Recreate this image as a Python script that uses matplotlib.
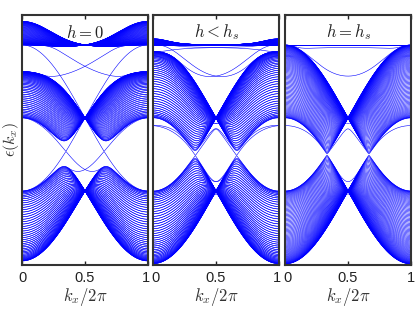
import numpy as np
import matplotlib
matplotlib.use("Agg")
import matplotlib.pyplot as plt
import matplotlib.transforms as mtransforms

# kagome strip magnon bands, one panel per field value
titles = [r'$h=0$', r'$h<h_s$', r'$h=h_s$']
phi_dm = [0.20, 0.05, 0.0]        # DM phase per bond
edge_shift = [0.0, -0.3, -0.3]    # on-site change on edge sites
n_rows = [45, 45, 90]             # strip width (unit cells) per panel
kx = np.linspace(0, 1, 241)       # k_x / 2pi
ylims = (-0.03, 6.82)
xticks = [0, 0.5, 1]
xticklabels = ['0', '0.5', '1']

s3 = np.sqrt(3)
SUB = {'A': (0.0, 0.0), 'B': (0.5, 0.0), 'C': (0.25, s3/4)}
CYC = {('A', 'B'), ('B', 'C'), ('C', 'A')}


def build_strip(N):
    sites = [(s, m) for m in range(N) for s in 'ABC']
    pos = [((SUB[s][0] + 0.5*m) % 1.0, SUB[s][1] + m*s3/2) for s, m in sites]
    bonds = []
    deg = np.zeros(len(sites))
    for i in range(len(sites)):
        for j in range(len(sites)):
            if (sites[i][0], sites[j][0]) not in CYC:
                continue
            if abs(pos[j][1] - pos[i][1]) > 0.5:
                continue
            for sh in (-1, 0, 1):
                d = np.hypot(pos[j][0] + sh - pos[i][0], pos[j][1] - pos[i][1])
                if abs(d - 0.5) < 1e-6:
                    bonds.append((i, j, sh))
                    deg[i] += 1
                    deg[j] += 1
    return bonds, deg


def bands(k, phi, delta, bonds, deg):
    n = len(deg)
    out = []
    for kk in k:
        M = np.zeros((n, n), complex)
        for i, j, sh in bonds:
            amp = np.exp(1j*phi) * np.exp(2j*np.pi*kk*sh)
            M[j, i] += amp
            M[i, j] += np.conj(amp)
        H = 4*np.eye(n) - M + np.diag(delta*(4 - deg))
        out.append(np.linalg.eigvalsh(H))
    return np.array(out)


plt.rcParams['mathtext.fontset'] = 'cm'
plt.rcParams['font.family'] = ['Liberation Sans', 'DejaVu Sans']

fig = plt.figure(figsize=(4.15, 3.12), dpi=100)
lefts = [22, 153, 285]
for p in range(3):
    ax = fig.add_axes([lefts[p]/415, 47/312, 126/415, 250/312])
    bonds, deg = build_strip(n_rows[p])
    E = bands(kx, phi_dm[p], edge_shift[p], bonds, deg)
    ax.plot(kx, E, color='b', lw=0.4)
    if phi_dm[p] != 0:
        ax.plot(1 - kx, E, color='b', lw=0.4)
    ax.set_xlim(0, 1)
    ax.set_ylim(*ylims)
    ax.set_yticks([])
    ax.set_xticks(xticks)
    ax.set_xticklabels(xticklabels, fontsize=10.5)
    ax.tick_params(axis='x', direction='in', length=3, width=1, top=True, pad=4, colors='#222222')
    # nudge the touching "1" / "0" labels apart a little
    labs = ax.get_xticklabels()
    if p < 2:
        labs[-1].set_transform(labs[-1].get_transform() +
                               mtransforms.ScaledTranslation(-2/100, 0, fig.dpi_scale_trans))
    if p > 0:
        labs[0].set_transform(labs[0].get_transform() +
                              mtransforms.ScaledTranslation(2/100, 0, fig.dpi_scale_trans))
    for sp in ax.spines.values():
        sp.set_linewidth(1.5)
        sp.set_color('#333333')
    ax.set_xlabel(r'$k_x/2\pi$', fontsize=12, labelpad=1, color='#333333')
    ax.text(0.5, 0.93, titles[p], transform=ax.transAxes, ha='center', va='center',
            fontsize=12, color='#222222')
    if p == 0:
        ax.set_ylabel(r'$\epsilon(k_x)$', fontsize=11.5, labelpad=0.5, color='#333333')

fig.savefig('out.png', dpi=100)
